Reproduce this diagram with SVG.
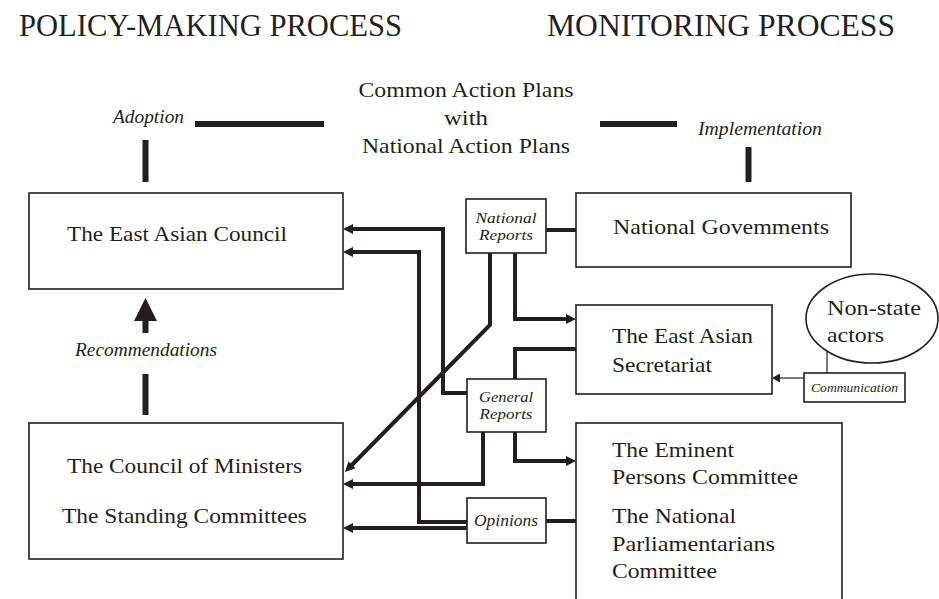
<svg xmlns="http://www.w3.org/2000/svg" width="939" height="599" viewBox="0 0 939 599">
  <style>
    .box { fill: #ffffff; stroke: #231f20; stroke-width: 1.6; }
    .t { font-family: "Liberation Serif", "Times New Roman", serif; fill: #231f20; font-size: 22px; }
    .h { font-size: 31px; }
    .i { font-style: italic; font-size: 18px; }
    .s { font-style: italic; font-size: 15px; }
    .so { font-style: italic; font-size: 17px; }
    .xs { font-style: italic; font-size: 13px; }
    .c { fill: none; stroke: #231f20; stroke-width: 4; stroke-linejoin: miter; }
    .thin { fill: none; stroke: #231f20; stroke-width: 1.2; }
    .bar { stroke: #231f20; stroke-width: 6; fill: none; }
    .mid { text-anchor: middle; }
  </style>
  <defs>
    <marker id="arr" viewBox="0 0 10 10" refX="3" refY="5" markerWidth="10" markerHeight="10" markerUnits="userSpaceOnUse" orient="auto">
      <path d="M0,0 L10,5 L0,10 z" fill="#231f20"/>
    </marker>
    <marker id="arrs" viewBox="0 0 8 9" refX="2" refY="4.5" markerWidth="8" markerHeight="9" markerUnits="userSpaceOnUse" orient="auto">
      <path d="M0,0 L8,4.5 L0,9 z" fill="#231f20"/>
    </marker>
  </defs>

  <rect width="939" height="599" fill="#ffffff"/>

  <!-- headings -->
  <g id="headings">
    <text class="t h" x="19" y="36" textLength="383" lengthAdjust="spacingAndGlyphs">POLICY-MAKING PROCESS</text>
    <text class="t h" x="547" y="36" textLength="348" lengthAdjust="spacingAndGlyphs">MONITORING PROCESS</text>
  </g>

  <!-- connectors -->
  <g id="connectors">
    <!-- adoption / implementation bars -->
    <line class="bar" x1="195" y1="124" x2="324" y2="124"/>
    <line class="bar" x1="145.5" y1="140" x2="145.5" y2="182"/>
    <line class="bar" x1="600" y1="124" x2="677" y2="124"/>
    <line class="bar" x1="748.5" y1="147" x2="748.5" y2="182"/>
    <!-- recommendations -->
    <polygon points="145.5,298 157,321 148.5,321 148.5,333 142.5,333 142.5,321 134,321" fill="#231f20"/>
    <line class="bar" x1="145.5" y1="374" x2="145.5" y2="415"/>

    <!-- report and opinion flows -->
    <path class="c" d="M467,393 H443 V229 H350" marker-end="url(#arr)"/>
    <path class="c" d="M467,522 H419 V252 H350" marker-end="url(#arr)"/>
    <path class="c" d="M490,253 V325 L349.9,467" marker-end="url(#arr)"/>
    <path class="c" d="M515,253 V319 H569" marker-end="url(#arr)"/>
    <path class="c" d="M576,349 H515 V379"/>
    <path class="c" d="M483,432 V484 H350" marker-end="url(#arr)"/>
    <path class="c" d="M515,432 V461 H569" marker-end="url(#arr)"/>
    <path class="c" d="M467,528 H350" marker-end="url(#arr)"/>
    <path class="c" d="M546,230 H576"/>
    <path class="c" d="M546,521 H576"/>

    <!-- non-state actors channel -->
    <path class="thin" d="M827,352 V373"/>
    <path class="thin" d="M804,378 H778" marker-end="url(#arrs)"/>
  </g>

  <!-- plan labels -->
  <g id="plans">
    <text class="t mid" x="466" y="97" textLength="215" lengthAdjust="spacingAndGlyphs">Common Action Plans</text>
    <text class="t mid" x="466" y="125" textLength="44" lengthAdjust="spacingAndGlyphs">with</text>
    <text class="t mid" x="466" y="153" textLength="208" lengthAdjust="spacingAndGlyphs">National Action Plans</text>
    <text class="t i" x="113" y="123" textLength="71" lengthAdjust="spacingAndGlyphs">Adoption</text>
    <text class="t i" x="698" y="135" textLength="124" lengthAdjust="spacingAndGlyphs">Implementation</text>
    <text class="t i" x="75" y="356" textLength="142" lengthAdjust="spacingAndGlyphs">Recommendations</text>
  </g>

  <g id="east-asian-council">
    <rect class="box" x="29" y="193" width="314" height="96"/>
    <text class="t" x="67" y="241" textLength="220" lengthAdjust="spacingAndGlyphs">The East Asian Council</text>
  </g>

  <g id="council-of-ministers">
    <rect class="box" x="29" y="423" width="314" height="136"/>
    <text class="t" x="67" y="473" textLength="235" lengthAdjust="spacingAndGlyphs">The Council of Ministers</text>
    <text class="t" x="62" y="523" textLength="245" lengthAdjust="spacingAndGlyphs">The Standing Committees</text>
  </g>

  <g id="national-governments">
    <rect class="box" x="576" y="193" width="275" height="74"/>
    <text class="t" x="613" y="234" textLength="216" lengthAdjust="spacingAndGlyphs">National Govemments</text>
  </g>

  <g id="secretariat">
    <rect class="box" x="576" y="305" width="196" height="89"/>
    <text class="t" x="612" y="343" textLength="141" lengthAdjust="spacingAndGlyphs">The East Asian</text>
    <text class="t" x="612" y="372" textLength="100" lengthAdjust="spacingAndGlyphs">Secretariat</text>
  </g>

  <g id="committees">
    <rect class="box" x="576" y="423" width="266" height="185"/>
    <text class="t" x="612" y="457" textLength="122" lengthAdjust="spacingAndGlyphs">The Eminent</text>
    <text class="t" x="612" y="484" textLength="186" lengthAdjust="spacingAndGlyphs">Persons Committee</text>
    <text class="t" x="612" y="523" textLength="124" lengthAdjust="spacingAndGlyphs">The National</text>
    <text class="t" x="612" y="551" textLength="163" lengthAdjust="spacingAndGlyphs">Parliamentarians</text>
    <text class="t" x="612" y="578" textLength="105" lengthAdjust="spacingAndGlyphs">Committee</text>
  </g>

  <g id="non-state-actors">
    <ellipse class="box" cx="872" cy="318.5" rx="66" ry="44.5"/>
    <text class="t" x="827" y="315" textLength="94" lengthAdjust="spacingAndGlyphs">Non-state</text>
    <text class="t" x="827" y="342" textLength="57" lengthAdjust="spacingAndGlyphs">actors</text>
  </g>

  <g id="national-reports">
    <rect class="box" x="466" y="199" width="80" height="54"/>
    <text class="t s mid" x="506" y="223" textLength="61" lengthAdjust="spacingAndGlyphs">National</text>
    <text class="t s mid" x="506" y="240" textLength="54" lengthAdjust="spacingAndGlyphs">Reports</text>
  </g>

  <g id="general-reports">
    <rect class="box" x="467" y="379" width="79" height="53"/>
    <text class="t s mid" x="506" y="402" textLength="54" lengthAdjust="spacingAndGlyphs">General</text>
    <text class="t s mid" x="506" y="419" textLength="53" lengthAdjust="spacingAndGlyphs">Reports</text>
  </g>

  <g id="opinions">
    <rect class="box" x="467" y="498" width="79" height="45"/>
    <text class="t so mid" x="506" y="526" textLength="64" lengthAdjust="spacingAndGlyphs">Opinions</text>
  </g>

  <g id="communication">
    <rect class="box" x="804" y="373" width="101" height="29"/>
    <text class="t xs" x="811" y="392" textLength="87" lengthAdjust="spacingAndGlyphs">Communication</text>
  </g>
</svg>
